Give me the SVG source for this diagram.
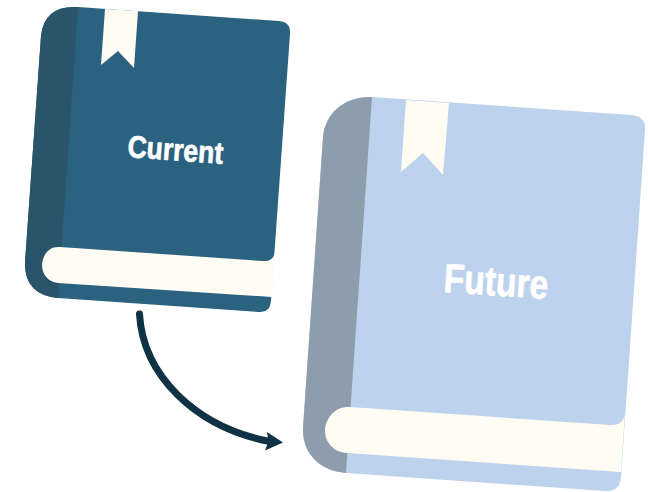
<svg xmlns="http://www.w3.org/2000/svg" width="648" height="492" viewBox="0 0 648 492">
<style>
.page{fill:#fffcf4}
.label{font-family:"Liberation Sans",Arial,sans-serif;font-weight:700;fill:#fff;stroke:#fff;stroke-width:.7}
.c-cover{fill:#2a6280}
.c-spine{fill:#2a5469}
.f-cover{fill:#bdd2ec}
.f-spine{fill:#8e9dac}
</style>
<rect width="648" height="492" fill="#fff"/>
<g id="connectors">
<path d="M139.500,314C143,375 195,427 270,441.500" fill="none" stroke="#0f3344" stroke-width="7" stroke-linecap="round"/>
<path d="M283,442.500L265,450.500L268.500,441.500L267,432Z" fill="#0f3344"/>
</g>
<g id="current">
<path class="c-cover" d="M78,7L279,21Q291,22 290,34L271,301Q270,313 259,312L58,298Q24,295 25,262L41,36Q44,5 78,7Z"/>
<path class="c-spine" d="M78,7L58,298Q24,295 25,262L41,36Q44,5 78,7Z"/>
<path class="page" d="M60,247L263,261Q274,262 275,251L272,297L58,283C48,282 42,274 42,265C43,253 50,246 60,247Z"/>
<path class="page" d="M105,9L138,11L134,68L118,51L101,65Z"/>
<text class="label" transform="translate(127,157) rotate(4.1) scale(.855,1)" font-size="31">Current</text>
</g>
<g id="future">
<path class="f-cover" d="M372,97L631,115Q646,116 645,130L621,477Q620,492 605,491L346,473C318,471 302,452 303,428L323,137C325,113 345,96 372,97Z"/>
<path class="f-spine" d="M372,97L346,473C318,471 302,452 303,428L323,137C325,113 345,96 372,97Z"/>
<path class="page" d="M350,407L610,425Q624,426 625,412L621,472L347,453C333,452 325,442 325,430C326,417 336,406 350,407Z"/>
<path class="page" d="M406,100L449,103L443,175L423,153L401,172Z"/>
<text class="label" transform="translate(443,292) rotate(3.8) scale(.82,1)" font-size="41">Future</text>
</g>
</svg>
